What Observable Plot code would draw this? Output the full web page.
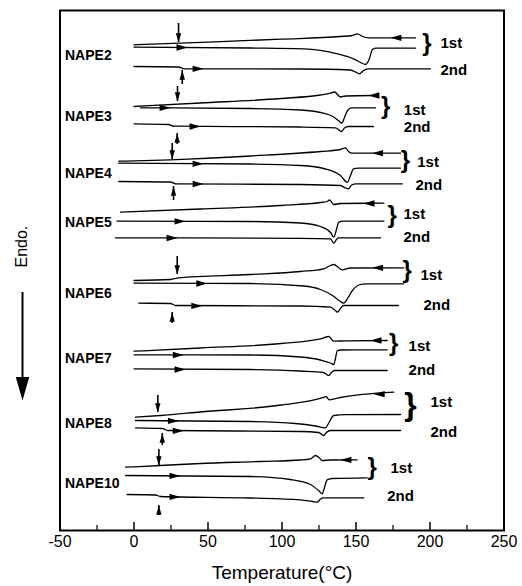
<!DOCTYPE html>
<html>
<head>
<meta charset="utf-8">
<script src="https://cdn.jsdelivr.net/npm/d3@7"></script>
<script src="https://cdn.jsdelivr.net/npm/@observablehq/plot@0.6"></script>
<style>
  html, body { margin: 0; padding: 0; background: #fff; }
</style>
</head>
<body>
<div id="chart"></div>
<script>
// ---- Data: DSC thermograms (temperature °C, heat flow in arbitrary units, offset per trace) ----
const n2Cool  = [[0,485.7],[45.3,488.2],[99.3,491.3],[139.5,494],[147.6,495],[151,496.7],[154.4,494],[158.4,492.7],[190.2,492.7]];
const n2Heat1 = [[0,483.3],[78.7,482.5],[114.5,481.7],[137.5,476.7],[148.3,471.7],[153.7,467.5],[156.4,466],[159.1,472],[161.1,481],[163.8,482.3],[190.2,482.3]];
const n2Heat2 = [[0,464],[30.1,463.5],[34.1,461.7],[112.5,461.5],[146.3,460.5],[150.3,458],[152.4,456.7],[155.1,460],[158.4,461.7],[200.3,461.7]];

const n3Cool  = [[0,424],[44.9,427.5],[99.3,432],[126,435.5],[132.8,437.3],[135.5,438.5],[139.5,433.5],[143,434.5],[161.8,435]];
const n3Heat1 = [[4.4,422.7],[78.7,422],[112.5,420.5],[126,418],[134.8,413.5],[138.9,409],[140.5,407.3],[142.2,413],[144.3,420],[147,422.7],[163.2,422.7]];
const n3Heat2 = [[0,406.7],[23.3,406],[26.7,404.3],[112.5,403.5],[136.1,402.7],[138.9,400],[140.2,399],[142.2,402.5],[144.9,404],[161.8,404]];

const n4Cool  = [[-10.3,369.3],[24.7,370.7],[78.7,374.5],[126,379],[139.5,381],[142.9,382.7],[144.9,379],[147.6,377.3],[180.1,377.3]];
const n4Heat1 = [[-10.3,367.3],[78.7,366.5],[112.5,365],[129.4,361.5],[139.5,355],[144.1,348.3],[146.3,355],[148.3,361.7],[151.7,362.3],[180.1,362.3]];
const n4Heat2 = [[-10.3,349],[24.7,348.5],[28.1,346.7],[112.5,346],[139.5,345],[142.9,342.5],[144.9,341.7],[147,345.5],[150.3,346.7],[181.4,346.7]];

const n5Cool  = [[-9.1,318.3],[44.9,321.5],[99.3,325],[126,328],[130.5,329],[132.1,330.5],[135,326],[139.5,327],[168.8,327.3]];
const n5Heat1 = [[-11.4,309.3],[78.7,309],[112.5,307.5],[126,304],[132.8,298],[135,293.3],[136.8,301],[138.4,308.3],[141.6,309.3],[168.8,309.3]];
const n5Heat2 = [[-12.5,292.7],[112.5,292.2],[132.8,291.7],[135,287.3],[136.8,291],[138.2,292.7],[166.6,292.7]];

const n6Cool  = [[0,250],[24.7,251],[30.1,252.7],[78.7,256],[112.5,259],[128.2,261.7],[132.8,265],[135,266],[138.2,263],[140.7,260.7],[146.3,262.5],[182.3,262.7]];
const n6Heat1 = [[0,247.3],[78.7,247],[114.5,244.5],[126,241],[134.1,235],[139.5,229],[141.8,227.3],[144.3,232],[147.6,240],[151.9,245.5],[157.1,246.7],[182.3,246.7]];
const n6Heat2 = [[3.2,227.3],[24.7,227],[28,225],[112.5,224.5],[132.8,223.3],[136.1,220],[137.5,218.3],[139.5,222],[141.6,225],[178.7,225]];

const n7Cool  = [[0,179.3],[44.9,182.5],[99.3,187],[126,191.7],[131.6,194],[135,189.3],[142.9,189.7],[171.1,190]];
const n7Heat1 = [[0,175.7],[78.7,175.5],[112.5,173.5],[126,170.5],[132.8,167.5],[135,166],[136.1,172],[137.3,179.5],[139.5,180.5],[171.1,180.7]];
const n7Heat2 = [[0,161.7],[78.7,161],[112.5,159.5],[128,158],[131.6,155],[133.4,158],[135.4,160],[171.1,160]];

const n8Cool  = [[1,113.3],[17.9,115],[44.9,118.5],[99.3,125.5],[128.6,133.3],[129.7,134],[131.9,130.7],[139.5,133],[175.5,138.3]];
const n8Heat1 = [[1,110],[78.7,109],[109.1,107],[122.6,104.5],[129.4,102.7],[131.4,107],[135,115],[142.9,115.8],[180.1,116]];
const n8Heat2 = [[1,102.7],[19.3,102],[22.6,100],[112.5,99],[124.7,98],[128.2,95],[130,98],[132.8,100],[180.1,100]];

const n10Cool  = [[-5.7,63.3],[17.9,65],[44.9,67],[85.5,69],[112.5,70.5],[119.3,71.7],[122.6,75],[125.3,72.5],[127.2,70],[132.8,70.5],[150.8,70.7]];
const n10Heat1 = [[-5.7,55],[78.7,54],[105.7,51],[119.3,46],[124.7,40],[127.2,36.7],[128.7,43],[130.5,50.7],[134.1,52],[157.6,52.7]];
const n10Heat2 = [[-4.6,36],[14.5,35.5],[17.9,34],[78.7,32.5],[112.5,30.7],[120.6,29],[123.8,28.3],[126,31.5],[128,32.7],[155.3,32.7]];

// scan-direction arrowheads on the traces
const dirArrows = [
  {T:173.3,v:492.7,dir:"left"},{T:36.1,v:483,dir:"right"},{T:47,v:461.7,dir:"right"},
  {T:158.4,v:435,dir:"left"},{T:24.7,v:422.7,dir:"right"},{T:44.9,v:404,dir:"right"},
  {T:160.9,v:377.3,dir:"left"},{T:47,v:366.7,dir:"right"},{T:47,v:346.5,dir:"right"},
  {T:155.1,v:327,dir:"left"},{T:34.8,v:309.2,dir:"right"},{T:29.4,v:292.5,dir:"right"},
  {T:160.9,v:262.7,dir:"left"},{T:49.5,v:247,dir:"right"},{T:46.1,v:224.6,dir:"right"},
  {T:159.8,v:190,dir:"left"},{T:33.6,v:175.5,dir:"right"},{T:34.8,v:161,dir:"right"},
  {T:162,v:136.3,dir:"left"},{T:30.3,v:109.6,dir:"right"},{T:33.6,v:99.7,dir:"right"},
  {T:139.5,v:70.6,dir:"left"},{T:31.4,v:54.6,dir:"right"},{T:31.4,v:33.6,dir:"right"}
];

// glass-transition markers (vertical arrows)
const tgArrows = [
  {T:30.1,from:507,to:488},{T:32.6,from:446,to:460},
  {T:29.4,from:444,to:429},{T:29.2,from:386,to:397},
  {T:25.8,from:387,to:371},{T:26.7,from:330,to:344},
  {T:29.2,from:274,to:256},{T:25.8,from:207,to:218},
  {T:16.1,from:135,to:118},{T:19.1,from:85,to:97},
  {T:16.8,from:81,to:65},{T:16.8,from:15,to:25}
];

const sampleNames = ["NAPE2","NAPE3","NAPE4","NAPE5","NAPE6","NAPE7","NAPE8","NAPE10"];
const sampleLabelV = [475,414,356.7,308.3,236.7,171.7,106.7,46.7];
const braceT = [197.9,170,183.4,174.5,184.6,175.5,186.8,161];
const braceV = [487,424,370.5,315,260,187,126,63];
const firstT = [207.1,182.3,191.4,182.1,193.6,185.5,200.3,173.3];
const firstV = [487.3,420,368.3,316.7,255,184,128.3,62.7];
const secondT = [207.1,182.3,190.2,182.1,195.6,185.5,200.3,171.1];
const secondV = [460,403.3,345,293.3,225,160,98.3,34];

const xTicks = [-50,0,50,100,150,200,250];
const xMinorTicks = [-25,25,75,125,175,225];
const xTitle = "Temperature(°C)";
const yTitle = "Endo.";
const endoArrow = {v: 263, from: 238, to: 130};

// ---- build tables ----
const traces = [
  ["NAPE2", n2Cool, n2Heat1, n2Heat2],
  ["NAPE3", n3Cool, n3Heat1, n3Heat2],
  ["NAPE4", n4Cool, n4Heat1, n4Heat2],
  ["NAPE5", n5Cool, n5Heat1, n5Heat2],
  ["NAPE6", n6Cool, n6Heat1, n6Heat2],
  ["NAPE7", n7Cool, n7Heat1, n7Heat2],
  ["NAPE8", n8Cool, n8Heat1, n8Heat2],
  ["NAPE10", n10Cool, n10Heat1, n10Heat2]
];
const linePts = [];
for (const [name, c, h1, h2] of traces) {
  for (const [run, arr] of [["cool", c], ["heat1", h1], ["heat2", h2]]) {
    for (const [T, v] of arr) linePts.push({id: name + "-" + run, T, v});
  }
}
const labels = sampleNames.map((name, i) => ({name, v: sampleLabelV[i]}));
const braces = braceT.map((T, i) => ({T, v: braceV[i], big: sampleNames[i] === "NAPE8"}));
const runLabels = [
  ...firstT.map((T, i) => ({T, v: firstV[i], text: "1st"})),
  ...secondT.map((T, i) => ({T, v: secondV[i], text: "2nd"}))
];

// arrowhead symbol pointing right, tip at origin
const arrowHead = {
  draw(ctx, size) {
    const r = Math.sqrt(size / Math.PI);
    ctx.moveTo(0, 0);
    ctx.lineTo(-2.6 * r, -0.75 * r);
    ctx.lineTo(-2.6 * r, 0.75 * r);
    ctx.closePath();
  }
};

const font = "'Liberation Sans', Arial, Helvetica, sans-serif";

const chart = Plot.plot({
  width: 522,
  height: 586,
  marginLeft: 59.5,
  marginRight: 18.5,
  marginTop: 10,
  marginBottom: 56,
  style: {fontFamily: font, background: "#fff", color: "#000"},
  x: {domain: [-50, 250]},
  y: {domain: [0, 520], axis: null},
  marks: [
    Plot.frame({stroke: "#000", strokeWidth: 2}),
    Plot.tickX(xTicks, {x: d => d, insetTop: 512, stroke: "#000", strokeWidth: 1.5}),
    Plot.tickX(xMinorTicks, {x: d => d, insetTop: 515, stroke: "#000", strokeWidth: 1.2}),
    Plot.axisX({ticks: xTicks, tickSize: 0, tickPadding: 5, fontSize: 16, label: null, tickFormat: d => String(d)}),
    Plot.text([xTitle], {x: 100, frameAnchor: "bottom", dy: 48, fontSize: 19, fill: "#000"}),
    // Endo label and arrow
    Plot.text([yTitle], {frameAnchor: "left", y: endoArrow.v, dx: -38, rotate: -90, fontSize: 16, fill: "#000"}),
    Plot.ruleX([-50], {y1: endoArrow.from, y2: endoArrow.to + 8, dx: -37.5, stroke: "#000", strokeWidth: 2}),
    Plot.dot([-50], {x: d => d, y: endoArrow.to, dx: -37.5, symbol: arrowHead, r: 9, rotate: 90, fill: "#000", stroke: "none"}),
    // traces
    Plot.line(linePts, {x: "T", y: "v", z: "id", curve: "monotone-x", stroke: "#000", strokeWidth: 1.3}),
    Plot.dot(dirArrows, {x: "T", y: "v", symbol: arrowHead, r: 4.2, rotate: d => d.dir === "left" ? 180 : 0, fill: "#000", stroke: "none"}),
    Plot.ruleX(tgArrows, {x: "T", y1: "from", y2: "to", stroke: "#000", strokeWidth: 1.6}),
    Plot.dot(tgArrows, {x: "T", y: "to", symbol: arrowHead, r: 3.6, rotate: d => d.to < d.from ? 90 : -90, fill: "#000", stroke: "none"}),
    // labels
    Plot.text(labels, {y: "v", text: "name", frameAnchor: "left", dx: 5, textAnchor: "start", fontSize: 14, fontWeight: "bold", fill: "#000"}),
    Plot.text(braces.filter(d => !d.big), {x: "T", y: "v", text: () => "}", fontSize: 24, fontWeight: "bold", fill: "#000"}),
    Plot.text(braces.filter(d => d.big), {x: "T", y: "v", text: () => "}", fontSize: 32, fontWeight: "bold", fill: "#000"}),
    Plot.text(runLabels, {x: "T", y: "v", text: "text", textAnchor: "start", fontSize: 15, fontWeight: "bold", fill: "#000"})
  ]
});
document.getElementById("chart").appendChild(chart);
</script>
</body>
</html>
